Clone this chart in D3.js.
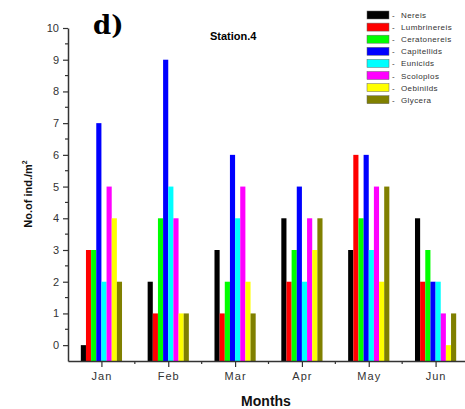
<!DOCTYPE html>
<html><head><meta charset="utf-8">
<script src="https://cdn.jsdelivr.net/npm/d3@7"></script>
<style>body{margin:0;background:#fff}svg{display:block}</style>
</head><body>
<svg id="c" width="465" height="409"></svg>
<script>
const months = ["Jan","Feb","Mar","Apr","May","Jun"];
const species = ["Nereis","Lumbrinereis","Ceratonereis","Capitellids","Eunicids","Scoloplos","Oebinilds","Glycera"];
const colors = ["#000000","#ff0000","#00ff00","#0000ff","#00ffff","#ff00ff","#ffff00","#808000"];
const Nereis       = [0,2,3,4,3,4];
const Lumbrinereis = [3,1,1,2,6,2];
const Ceratonereis = [3,4,2,3,4,3];
const Capitellids  = [7,9,6,5,6,2];
const Eunicids     = [2,5,4,2,3,2];
const Scoloplos    = [5,4,5,4,5,1];
const Oebinilds    = [4,1,2,3,2,0];
const Glycera      = [2,1,1,4,5,1];
const series = [Nereis,Lumbrinereis,Ceratonereis,Capitellids,Eunicids,Scoloplos,Oebinilds,Glycera];
const yTicks = [0,1,2,3,4,5,6,7,8,9,10];

(function(){
const svg = d3.select("#c");
const L = 68, R = 469, T = 28, B = 361;
const x = d3.scaleLinear().domain([-0.5, 5.5]).range([L, R]);
const y = d3.scaleLinear().domain([-0.5, 10]).range([B, T]);
const bw = 5.15;

// bars
months.forEach((m, i) => {
  series.forEach((s, j) => {
    const cx = x(i) + (j - 3.5) * bw;
    svg.append("rect")
      .attr("x", cx - bw/2).attr("width", bw)
      .attr("y", y(s[i])).attr("height", y(-0.5) - y(s[i]))
      .attr("fill", colors[j]);
  });
});

// y axis
const yAxis = d3.axisLeft(y).tickValues(yTicks).tickSize(5).tickSizeOuter(0).tickPadding(4);
const gy = svg.append("g").attr("transform", `translate(${L},0)`).call(yAxis);
gy.select(".domain").attr("stroke", "#333").attr("stroke-width", 1.5);
gy.selectAll(".tick line").attr("stroke", "#333").attr("stroke-width", 1.2);
gy.selectAll("text").attr("font-family", "Arial, Liberation Sans, sans-serif").attr("font-size", 11).attr("fill", "#333");
const yMinor = d3.range(0.5, 10, 1);
svg.append("g").selectAll("line").data(yMinor).join("line")
  .attr("x1", L - 3).attr("x2", L).attr("y1", d => y(d)).attr("y2", d => y(d))
  .attr("stroke", "#333").attr("stroke-width", 1.2);

// x axis
const xAxis = d3.axisBottom(x).tickValues(d3.range(6)).tickFormat((d) => months[d]).tickSize(6).tickSizeOuter(0).tickPadding(5);
const gx = svg.append("g").attr("transform", `translate(0,${B})`).call(xAxis);
gx.select(".domain").attr("stroke", "#333").attr("stroke-width", 1.5);
gx.selectAll(".tick line").attr("stroke", "#333").attr("stroke-width", 1.2);
gx.selectAll("text").attr("font-family", "Arial, Liberation Sans, sans-serif").attr("font-size", 11).attr("fill", "#333").attr("letter-spacing", 1);
const xMinor = d3.range(0.5, 5.5, 1);
svg.append("g").selectAll("line").data(xMinor).join("line")
  .attr("x1", d => x(d)).attr("x2", d => x(d)).attr("y1", B).attr("y2", B + 3)
  .attr("stroke", "#333").attr("stroke-width", 1.2);

// axis titles
svg.append("text").attr("x", 266).attr("y", 406).attr("text-anchor", "middle")
  .attr("font-family", "Arial, Liberation Sans, sans-serif").attr("font-weight", "bold").attr("font-size", 14).attr("fill", "#111").text("Months");
svg.append("text").attr("transform", "translate(32,194) rotate(-90)").attr("text-anchor", "middle")
  .attr("font-family", "Arial, Liberation Sans, sans-serif").attr("font-weight", "bold").attr("font-size", 11).attr("fill", "#111")
  .text("No.of ind./m").append("tspan").attr("dy", -5).attr("font-size", 7).text("2");

// panel label and title
svg.append("text").attr("x", 93).attr("y", 34).attr("font-family", "DejaVu Serif, serif").attr("font-weight", "bold").attr("font-size", 26).attr("fill", "#000").text("d)");
svg.append("text").attr("x", 210).attr("y", 40).attr("font-family", "Arial, Liberation Sans, sans-serif").attr("font-weight", "bold").attr("font-size", 11).attr("fill", "#000").text("Station.4");

// legend
const lg = svg.append("g");
species.forEach((s, j) => {
  const yy = 11 + j * 12.1;
  lg.append("rect").attr("x", 367).attr("y", yy).attr("width", 22).attr("height", 8).attr("fill", colors[j]).attr("stroke", "#666").attr("stroke-width", 0.5);
  lg.append("text").attr("x", 392).attr("y", yy + 7).attr("font-family", "Arial, Liberation Sans, sans-serif").attr("font-size", 8).attr("fill", "#333").text("-");
  lg.append("text").attr("x", 401).attr("y", yy + 7).attr("font-family", "Arial, Liberation Sans, sans-serif").attr("font-size", 8).attr("fill", "#333").attr("letter-spacing", 0.4).text(s);
});
})();
</script>
</body></html>
